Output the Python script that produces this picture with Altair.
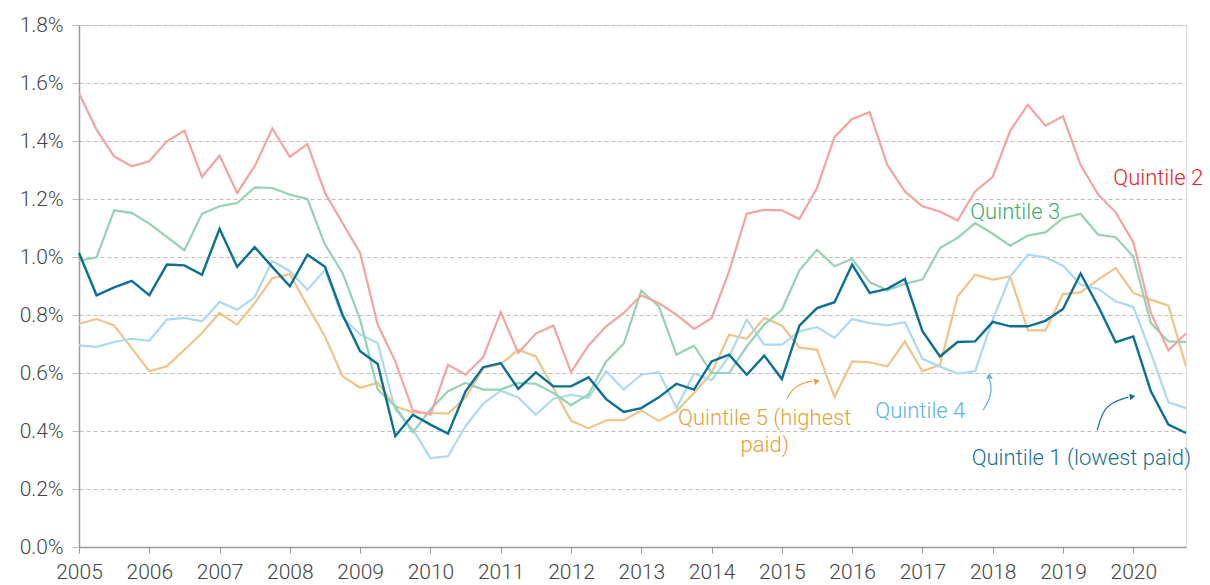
import altair as alt
import pandas as pd

# ---------------- data ----------------
quarters = [2005 + 0.25 * k for k in range(64)]

q1 = [1.014, 0.868, 0.895, 0.918, 0.868, 0.974, 0.971, 0.939, 1.097, 0.966, 1.034, 0.966,
      0.899, 1.008, 0.966, 0.801, 0.675, 0.631, 0.382, 0.456, 0.422, 0.391, 0.537,
      0.620, 0.634, 0.545, 0.602, 0.554, 0.554, 0.585, 0.510, 0.466, 0.479, 0.516,
      0.563, 0.543, 0.640, 0.663, 0.594, 0.660, 0.579, 0.763, 0.824, 0.844, 0.974,
      0.876, 0.890, 0.924, 0.744, 0.657, 0.707, 0.709, 0.776, 0.761, 0.761, 0.780,
      0.821, 0.943, 0.830, 0.706, 0.726, 0.537, 0.422, 0.393]
q2 = [1.565, 1.439, 1.347, 1.313, 1.330, 1.399, 1.436, 1.276, 1.350, 1.221, 1.313, 1.443,
      1.345, 1.390, 1.221, 1.117, 1.014, 0.767, 0.640, 0.471, 0.456, 0.628, 0.594,
      0.654, 0.810, 0.669, 0.736, 0.764, 0.603, 0.695, 0.761, 0.807, 0.868, 0.841,
      0.801, 0.752, 0.789, 0.951, 1.149, 1.163, 1.161, 1.131, 1.238, 1.414, 1.476,
      1.499, 1.318, 1.226, 1.175, 1.157, 1.126, 1.226, 1.276, 1.436, 1.525, 1.453,
      1.485, 1.318, 1.215, 1.154, 1.051, 0.807, 0.678, 0.736]
q3 = [0.987, 0.999, 1.161, 1.152, 1.115, 1.069, 1.023, 1.149, 1.175, 1.186, 1.240, 1.238,
      1.215, 1.200, 1.043, 0.945, 0.784, 0.543, 0.485, 0.395, 0.474, 0.537, 0.566,
      0.543, 0.543, 0.566, 0.563, 0.531, 0.489, 0.526, 0.640, 0.701, 0.884, 0.830,
      0.663, 0.694, 0.600, 0.600, 0.692, 0.767, 0.818, 0.954, 1.025, 0.968, 0.994,
      0.913, 0.885, 0.908, 0.922, 1.031, 1.066, 1.117, 1.080, 1.039, 1.074, 1.085,
      1.134, 1.149, 1.077, 1.068, 1.002, 0.772, 0.709, 0.707]
q4 = [0.695, 0.690, 0.707, 0.718, 0.711, 0.784, 0.790, 0.778, 0.845, 0.818, 0.862, 0.987,
      0.951, 0.887, 0.956, 0.790, 0.733, 0.703, 0.474, 0.405, 0.307, 0.313, 0.417,
      0.494, 0.539, 0.516, 0.456, 0.511, 0.525, 0.514, 0.606, 0.543, 0.594, 0.603,
      0.479, 0.598, 0.575, 0.657, 0.784, 0.698, 0.698, 0.744, 0.758, 0.721, 0.786,
      0.772, 0.764, 0.775, 0.649, 0.622, 0.598, 0.606, 0.784, 0.933, 1.008, 0.999,
      0.970, 0.905, 0.890, 0.847, 0.828, 0.669, 0.499, 0.479]
q5 = [0.770, 0.786, 0.764, 0.686, 0.606, 0.623, 0.680, 0.738, 0.807, 0.767, 0.841, 0.927,
      0.941, 0.832, 0.726, 0.589, 0.549, 0.566, 0.485, 0.464, 0.462, 0.460, 0.515,
      0.617, 0.631, 0.680, 0.657, 0.548, 0.436, 0.409, 0.437, 0.437, 0.471, 0.435,
      0.468, 0.531, 0.600, 0.732, 0.718, 0.790, 0.764, 0.688, 0.680, 0.517, 0.640,
      0.637, 0.622, 0.709, 0.606, 0.628, 0.864, 0.939, 0.922, 0.933, 0.747, 0.747,
      0.872, 0.878, 0.922, 0.962, 0.876, 0.853, 0.832, 0.623]

# draw order: bottom to top
series_names = ["Quintile 5", "Quintile 4", "Quintile 3", "Quintile 2", "Quintile 1"]
series_values = [q5, q4, q3, q2, q1]
line_colors = ["#eec488", "#acd9ef", "#95d2b3", "#f4a3a0", "#0b6f95"]

x_ticks = list(range(2005, 2021))
y_ticks = [0.0, 0.2, 0.4, 0.6, 0.8, 1.0, 1.2, 1.4, 1.6, 1.8]

# annotation labels
label_text = ["Quintile 2", "Quintile 3", "Quintile 4", "Quintile 1 (lowest paid)",
              "Quintile 5 (highest", "paid)"]
label_x = [2019.715, 2017.68, 2016.33, 2017.70, 2014.755, 2014.755]
label_y = [1.272, 1.155, 0.469, 0.307, 0.445, 0.352]
label_color = ["#e3262b", "#3aaa6e", "#5ab4e0", "#1a6f93", "#e3a13a", "#e3a13a"]
label_align = ["left", "left", "left", "left", "center", "center"]

# arrows (curves + heads)
arrow_id = [5, 5, 5, 5, 4, 4, 4, 4, 1, 1, 1, 1]
arrow_x = [2015.075, 2015.16, 2015.30, 2015.43,
           2017.865, 2017.98, 2017.98, 2017.95,
           2019.487, 2019.56, 2019.70, 2019.93]
arrow_y = [0.514, 0.548, 0.566, 0.572,
           0.472, 0.521, 0.559, 0.579,
           0.403, 0.466, 0.500, 0.517]
arrow_color = {5: "#e3a13a", 4: "#5ab4e0", 1: "#1a6f93"}
head_x = [2015.50, 2017.95, 2019.99]
head_y = [0.572, 0.590, 0.519]
head_shape = ["triangle-right", "triangle-up", "triangle-right"]
head_angle = [345, 355, 350]
head_color = ["#e3a13a", "#5ab4e0", "#1a6f93"]

# ---------------- tables ----------------
rows = []
for name, vals in zip(series_names, series_values):
    for t, v in zip(quarters, vals):
        rows.append({"series": name, "t": t, "v": v})
df = pd.DataFrame(rows)

labels_df = pd.DataFrame({"text": label_text, "x": label_x, "y": label_y,
                          "color": label_color, "align": label_align})
arrows_df = pd.DataFrame({"id": arrow_id, "x": arrow_x, "y": arrow_y,
                          "order": list(range(len(arrow_id))),
                          "color": [arrow_color[i] for i in arrow_id]})
heads_df = pd.DataFrame({"x": head_x, "y": head_y, "shape": head_shape,
                         "angle": head_angle, "color": head_color})

FONT = "Roboto"

x_scale = alt.Scale(domain=[2005, 2020.75], nice=False, zero=False)
y_scale = alt.Scale(domain=[0, 1.8], nice=False, zero=True)

x_axis = alt.Axis(values=x_ticks, format="d", grid=False, title=None,
                  tickSize=6, tickColor="#9a9a9a", domainColor="#9a9a9a",
                  domainWidth=1.5, labelFontSize=21, labelColor="#444444",
                  labelFontWeight=300,
                  labelPadding=8, labelFont=FONT, labelFlush=False)
y_axis = alt.Axis(values=y_ticks, labelExpr="format(datum.value, '.1f') + '%'",
                  grid=True, gridDash=[4, 3], gridColor="#bdbdbd", gridWidth=1,
                  title=None, tickSize=7, tickColor="#bdbdbd",
                  domainColor="#9a9a9a", domainWidth=1.5,
                  labelFontSize=21, labelColor="#444444", labelPadding=9,
                  labelFontWeight=300, labelFont=FONT)

layers = []
for name, col in zip(series_names, line_colors):
    layers.append(
        alt.Chart(df).transform_filter(alt.datum.series == name)
        .mark_line(color=col, strokeWidth=2.4 if name == "Quintile 1" else 2.2)
        .encode(x=alt.X("t:Q", scale=x_scale, axis=x_axis),
                y=alt.Y("v:Q", scale=y_scale, axis=y_axis))
    )

for al in ["left", "center"]:
    layers.append(
        alt.Chart(labels_df).transform_filter(alt.datum.align == al)
        .mark_text(align=al, baseline="middle", fontSize=22, font=FONT, fontWeight=300)
        .encode(x=alt.X("x:Q", scale=x_scale, axis=x_axis),
                y=alt.Y("y:Q", scale=y_scale, axis=y_axis),
                text="text:N",
                color=alt.Color("color:N", scale=None))
    )

layers.append(
    alt.Chart(arrows_df).mark_line(interpolate="basis", strokeWidth=1.2)
    .encode(x=alt.X("x:Q", scale=x_scale, axis=x_axis),
            y=alt.Y("y:Q", scale=y_scale, axis=y_axis),
            detail="id:N", order="order:Q",
            color=alt.Color("color:N", scale=None))
)
layers.append(
    alt.Chart(heads_df).mark_point(filled=True, size=45, opacity=1)
    .encode(x=alt.X("x:Q", scale=x_scale, axis=x_axis),
            y=alt.Y("y:Q", scale=y_scale, axis=y_axis),
            shape=alt.Shape("shape:N", scale=None),
            angle=alt.Angle("angle:Q", scale=None),
            color=alt.Color("color:N", scale=None))
)

chart = alt.layer(*layers).properties(
    width=1107, height=522,
    autosize=alt.AutoSizeParams(type="none"),
    padding={"left": 71, "top": 17, "right": 16, "bottom": 38},
).configure_view(stroke=None).configure(font=FONT, background="white")

chart.save("out.html", embed_options={"renderer": "svg", "actions": False})
